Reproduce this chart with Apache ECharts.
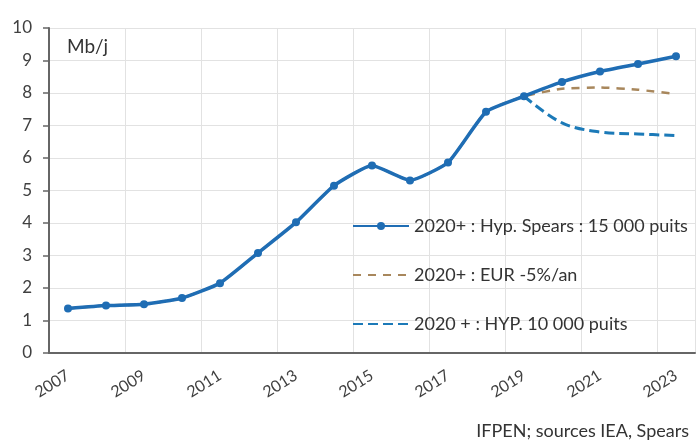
<!DOCTYPE html>
<html>
<head>
<meta charset="utf-8">
<script src="https://cdn.jsdelivr.net/npm/echarts@6/dist/echarts.min.js"></script>
<style>
  html, body { margin: 0; padding: 0; background: #fff; }
  #chart { width: 697px; height: 443px; }
</style>
</head>
<body>
<div id="chart"></div>
<script>
// données (Mb/j)
var years = ['2007', '2008', '2009', '2010', '2011', '2012', '2013', '2014', '2015',
  '2016', '2017', '2018', '2019', '2020', '2021', '2022', '2023']
var spears = [1.37, 1.46, 1.50, 1.69, 2.15, 3.08, 4.02, 5.15, 5.77, 5.31, 5.86, 7.42, 7.90, 8.34, 8.66, 8.89, 9.13]
var eur = [1.37, 1.46, 1.50, 1.69, 2.15, 3.08, 4.02, 5.15, 5.77, 5.31, 5.86, 7.42, 7.90, 8.13, 8.17, 8.10, 7.97]
var hyp10k = [null, null, null, null, null, null, null, null, null, null, null, null, 7.90, 7.08, 6.80, 6.74, 6.69]
var seriesNames = ['2020+ : Hyp. Spears : 15 000 puits', '2020+ : EUR -5%/an', '2020 + : HYP. 10 000 puits']

;(function () {
  var myChart = echarts.init(document.getElementById('chart'))
  var font = 'Lato, "Liberation Sans", sans-serif'
  var option = {
    animation: false,
    textStyle: { fontFamily: font },
    grid: {
      left: 49,
      right: 2,
      top: 28,
      bottom: 90,
      containLabel: false
    },
    legend: {
      orient: 'vertical',
      left: 352,
      top: 217,
      padding: 0,
      itemWidth: 56,
      itemHeight: 10,
      itemGap: 31,
      data: [
        { name: seriesNames[0] },
        { name: seriesNames[1], itemStyle: { opacity: 0 } },
        { name: seriesNames[2], itemStyle: { opacity: 0 } }
      ],
      textStyle: { fontSize: 18, color: '#333', fontFamily: font }
    },
    xAxis: {
      type: 'category',
      data: years,
      boundaryGap: true,
      axisLine: { lineStyle: { color: '#666', width: 2 } },
      axisTick: { interval: 1, length: 5, lineStyle: { color: '#666', width: 1.5 } },
      axisLabel: {
        interval: 1,
        rotate: 32,
        margin: 21,
        fontSize: 16,
        color: '#404040'
      },
      splitLine: { show: true, interval: 1, lineStyle: { color: '#e2e2e2', width: 1 } }
    },
    yAxis: {
      type: 'value',
      min: 0,
      max: 10,
      interval: 1,
      axisLine: { show: true, lineStyle: { color: '#666', width: 2 } },
      axisTick: { show: true, length: 6, lineStyle: { color: '#666', width: 1.5 } },
      axisLabel: { fontSize: 17, color: '#404040', margin: 17 },
      splitLine: { lineStyle: { color: '#e2e2e2', width: 1 } }
    },
    graphic: [
      {
        type: 'text',
        left: 67,
        top: 37,
        style: { text: 'Mb/j', fill: '#333', font: '19px ' + font }
      },
      {
        type: 'text',
        right: 8,
        top: 422,
        style: { text: 'IFPEN; sources IEA, Spears', fill: '#333', font: '18px ' + font }
      }
    ],
    series: [
      {
        name: seriesNames[1],
        type: 'line',
        data: eur,
        z: 2,
        smooth: 0.15,
        symbol: 'none',
        color: '#a8875c',
        lineStyle: { color: '#a8875c', width: 2.5, type: [8, 7] }
      },
      {
        name: seriesNames[2],
        type: 'line',
        data: hyp10k,
        z: 3,
        smooth: 0.35,
        symbol: 'none',
        color: '#1c7ab8',
        lineStyle: { color: '#1c7ab8', width: 3, type: [10, 5] }
      },
      {
        name: seriesNames[0],
        type: 'line',
        data: spears,
        z: 4,
        smooth: 0.15,
        symbol: 'circle',
        symbolSize: 8,
        color: '#1f6db4',
        itemStyle: { color: '#1f6db4' },
        lineStyle: { color: '#1f6db4', width: 3.5 }
      }
    ]
  }
  myChart.setOption(option)
  window.addEventListener('resize', function () {
    myChart.resize()
  })
})();
</script>
</body>
</html>
